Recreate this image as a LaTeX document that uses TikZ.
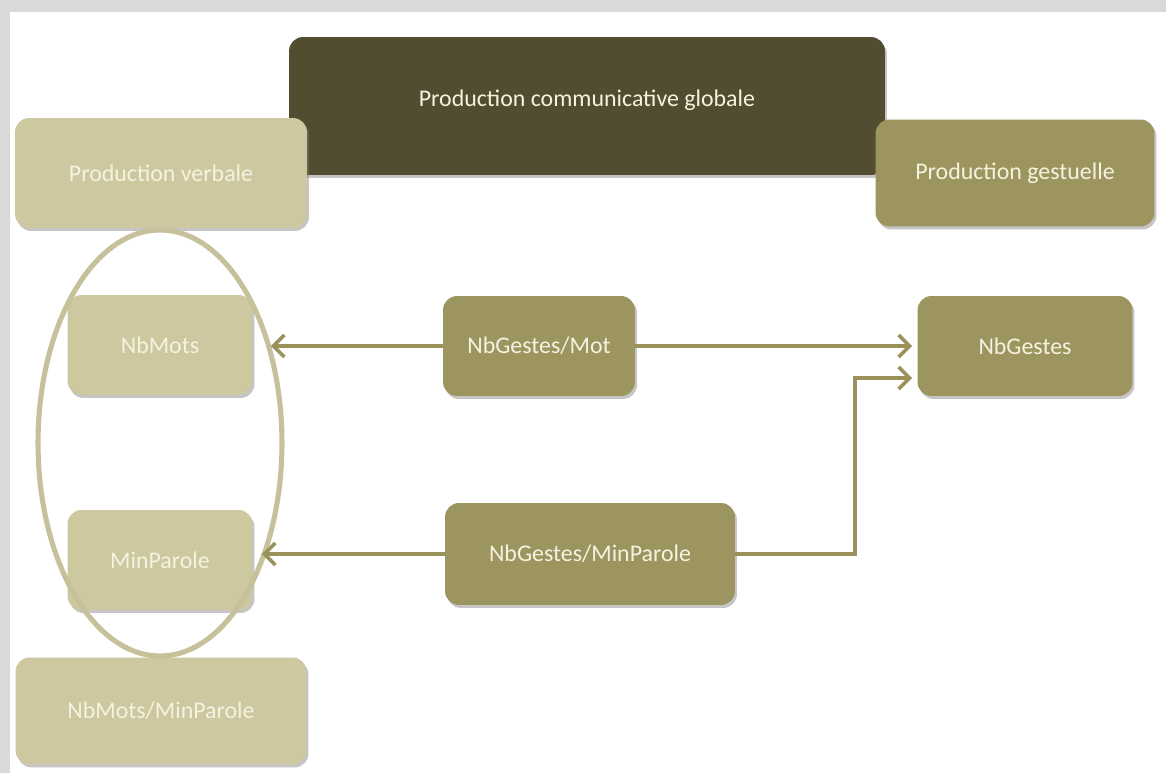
\documentclass[tikz,border=0pt]{standalone}
\usepackage{fontspec}
\setmainfont{Carlito}
\usepackage{xcolor}
\usetikzlibrary{arrows.meta, positioning, shadows, shapes.geometric}

\definecolor{darkolive}{HTML}{524D31}
\definecolor{midolive}{HTML}{9D955F}
\definecolor{paleolive}{HTML}{CDC8A0}
\definecolor{ringolive}{HTML}{C6C19B}
\definecolor{linkolive}{HTML}{9A925A}
\definecolor{labelcream}{HTML}{F6F2E0}

\begin{document}
\begin{tikzpicture}[
    x=0.02cm, y=-0.02cm,
    box/.style={rounded corners=0.28cm, draw=none, text=labelcream, font=\fontsize{13.6}{16}\selectfont,
        drop shadow={shadow xshift=0.04cm, shadow yshift=-0.06cm, opacity=0.45}},
    darkbox/.style={box, fill=darkolive},
    midbox/.style={box, fill=midolive},
    palebox/.style={box, fill=paleolive},
    link/.style={draw=linkolive, line width=2.2pt, -{Straight Barb[length=2.2mm, width=4.4mm, line width=2pt]}}
]
    % Frame
    \fill[gray!30] (0,0) rectangle (1166,773);
    \fill[white] (10,12) rectangle (1166,773);
    \useasboundingbox (0,0) rectangle (1166,773);

    % Top row
    \node[darkbox, minimum width=11.92cm, minimum height=2.76cm, text depth=0.3cm] (global) at (587,106) {Production communicative globale};
    \node[palebox, minimum width=5.84cm, minimum height=2.2cm] (verbale) at (161,173) {Production verbale};
    \node[midbox, minimum width=5.58cm, minimum height=2.14cm] (gestuelle) at (1015,173) {Production gestuelle};

    % Verbal measures
    \node[palebox, minimum width=3.7cm, minimum height=2cm] (nbmots) at (160,345) {NbMots};
    \node[palebox, minimum width=3.7cm, minimum height=2cm] (minparole) at (160,560) {MinParole};
    \node[palebox, minimum width=5.82cm, minimum height=2.14cm] (motsmin) at (161,711) {NbMots/MinParole};

    % Grouping ring
    \node[draw=ringolive, line width=2.9pt, ellipse, minimum width=4.88cm, minimum height=8.52cm, inner sep=0pt] (ring) at (160,443) {};

    % Gesture measures
    \node[midbox, minimum width=3.84cm, minimum height=2cm] (gestesmot) at (539,346) {NbGestes/Mot};
    \node[midbox, minimum width=4.3cm, minimum height=2cm] (nbgestes) at (1025,346) {NbGestes};
    \node[midbox, minimum width=5.8cm, minimum height=2.04cm] (gestesmin) at (590,554) {NbGestes/MinParole};

    % Links
    \coordinate (bend) at (855,554);
    \draw[link, shorten >=0.36cm] (gestesmot.west) -- (nbmots.east |- gestesmot.west);
    \draw[link, shorten >=0.1cm] (gestesmot.east) -- (nbgestes.west);
    \draw[link, shorten >=0.18cm] (gestesmin.west) -- (minparole.east |- gestesmin.west);
    \draw[link, shorten >=0.1cm] (gestesmin.east) -- (bend) |- ([yshift=-0.64cm]nbgestes.west);
\end{tikzpicture}
\end{document}
